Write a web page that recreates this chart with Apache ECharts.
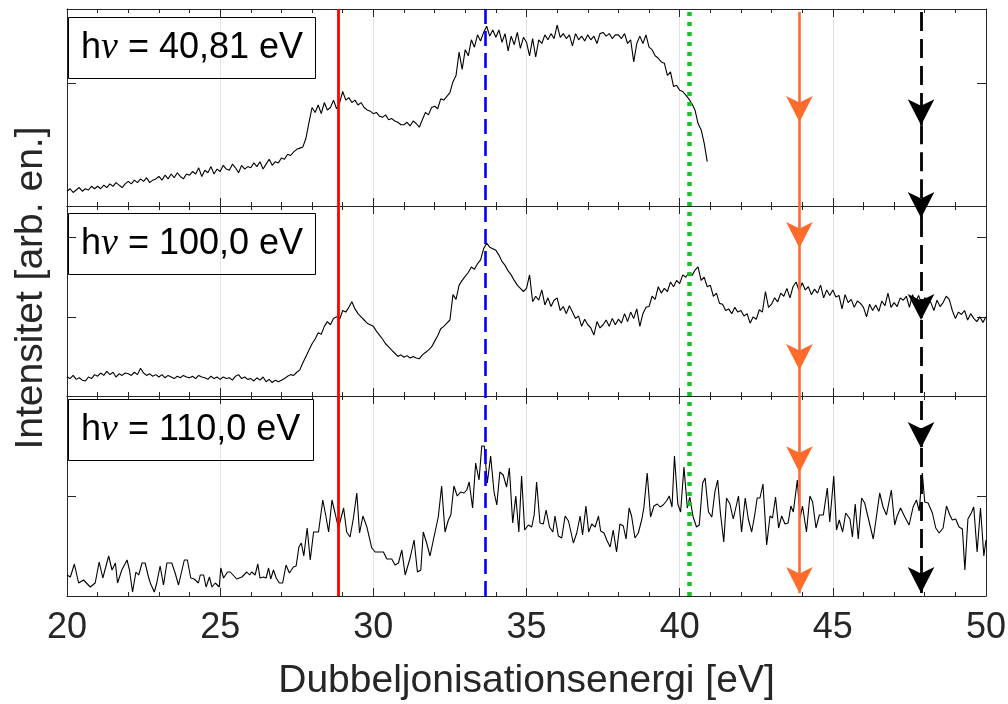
<!DOCTYPE html>
<html><head><meta charset="utf-8">
<script src="https://cdn.jsdelivr.net/npm/echarts@6/dist/echarts.min.js"></script>
<style>html,body{margin:0;padding:0;background:#fff}#c{width:1008px;height:704px}</style>
</head><body><div id="c"></div>
<script>
// ---------- data ----------
const xMin = 20, xMax = 50, xTickStep = 5;
const photonEnergies = ['40,81', '100,0', '110,0'];
const panelYMax = [160, 240, 200];
const yTickStep = 100;

// panel 1 : hv = 40,81 eV (sampled every 0.1 eV from 20.0)
const p1Start = 20, p1Step = 0.1;
const p1 = [
12,14,11,13,15,12,14,13,16,14,
16,14,17,15,18,16,19,17,15,18,
20,18,21,19,22,20,23,19,21,22,
24,21,25,22,26,23,27,24,22,26,
25,28,26,31,24,29,27,32,26,30,
28,33,30,29,34,31,27,33,30,32,
31,35,32,36,30,34,38,33,36,35,
39,38,42,41,44,46,47,48,55,68,
80,76,82,75,84,78,80,86,79,84,
93,86,88,84,86,82,84,80,78,77,
75,76,73,72,74,70,71,69,68,66,
66,68,65,69,67,64,70,76,74,80,
81,79,87,86,89,92,101,106,125,111,
127,122,135,129,139,134,141,146,138,143,
137,143,133,140,126,138,131,141,128,137,
133,122,136,121,135,132,139,135,140,136,
147,137,140,136,139,130,140,135,138,134,
139,135,138,132,140,141,138,140,136,139,
139,136,140,132,135,117,132,138,132,139,
129,127,122,120,117,116,106,109,97,98,
94,93,90,87,83,78,67,62,51,36
];

// panel 2 : hv = 100,0 eV (sampled every 0.1 eV from 20.0)
const p2Start = 20, p2Step = 0.1;
const p2 = [
24,22,26,21,23,20,19,24,22,27,
25,29,26,31,27,30,24,28,26,29,
28,26,30,27,35,29,26,28,25,27,
24,27,23,26,24,22,25,23,26,24,
23,25,22,26,24,23,21,25,22,24,
21,24,22,23,20,25,27,22,24,21,
22,19,23,20,24,18,21,17,20,18,
20,22,25,27,26,30,33,42,50,58,
66,72,80,78,88,94,90,98,100,97,
108,106,112,119,110,104,100,96,92,90,
88,82,77,72,66,62,58,54,50,52,
49,51,48,50,48,47,52,55,58,62,
69,76,85,88,92,96,128,122,140,146,
151,156,163,160,167,172,186,193,188,186,
184,178,170,165,158,153,146,140,136,132,
136,153,119,126,121,134,115,124,113,121,
124,108,113,104,114,106,98,101,88,97,
90,86,77,94,86,90,96,88,98,90,
97,92,104,94,106,98,110,88,104,112,
113,126,122,138,130,136,132,144,138,146,
142,153,150,156,152,159,163,146,150,138,
140,126,130,117,116,108,110,104,112,106,
108,101,104,92,100,97,109,106,132,112,
116,124,119,130,126,136,124,138,144,133,
143,134,138,128,135,130,140,124,134,127,
134,125,127,110,128,118,122,112,120,117,
112,100,116,108,115,107,120,114,130,112,
118,113,124,121,126,112,128,119,127,116,
124,122,118,108,121,113,118,126,122,108,
98,106,103,108,96,104,98,94,100,93,
100
];

// panel 3 : hv = 110,0 eV
const p3x = [
20.00,20.11,20.24,20.38,20.54,20.76,20.92,21.05,21.17,21.36,21.47,21.58,21.65,21.79,21.96,22.04,22.14,22.25,22.34,22.45,
22.55,22.66,22.72,22.85,22.93,23.04,23.15,23.26,23.42,23.53,23.64,23.83,23.93,24.04,24.15,24.29,24.35,24.46,24.54,24.65,
24.73,24.84,24.97,25.02,25.11,25.24,25.33,25.54,25.71,25.87,25.96,26.03,26.14,26.23,26.30,26.41,26.50,26.58,26.65,26.74,
26.83,26.93,27.04,27.15,27.26,27.39,27.48,27.57,27.65,27.73,27.84,27.94,28.05,28.21,28.35,28.45,28.54,28.65,28.75,28.86,
29.03,29.13,29.24,29.35,29.46,29.55,29.66,29.79,29.95,30.06,30.33,30.44,30.60,30.71,30.82,30.93,31.04,31.20,31.33,31.44,
31.55,31.63,31.74,31.85,31.98,32.12,32.23,32.34,32.45,32.53,32.63,32.74,32.85,32.96,33.05,33.13,33.24,33.34,33.45,33.54,
33.62,33.72,33.83,33.94,34.03,34.13,34.24,34.35,34.44,34.55,34.65,34.75,34.84,34.94,35.06,35.17,35.25,35.33,35.44,35.55,
35.64,35.75,35.86,35.93,36.04,36.15,36.26,36.37,36.53,36.64,36.75,36.83,36.94,37.03,37.13,37.24,37.35,37.42,37.53,37.62,
37.73,37.83,37.94,38.05,38.16,38.25,38.35,38.43,38.54,38.65,38.76,38.83,38.94,39.05,39.16,39.27,39.36,39.46,39.57,39.66,
39.75,39.83,39.94,40.03,40.14,40.25,40.33,40.44,40.55,40.64,40.75,40.83,40.94,41.05,41.15,41.24,41.33,41.44,41.53,41.64,
41.75,41.92,42.02,42.14,42.24,42.35,42.45,42.53,42.62,42.72,42.84,42.95,43.03,43.13,43.23,43.33,43.44,43.54,43.63,43.71,
43.84,43.93,44.01,44.14,44.25,44.34,44.45,44.56,44.69,44.82,44.90,45.03,45.12,45.21,45.32,45.42,45.56,45.64,45.73,45.83,
45.94,46.04,46.21,46.32,46.43,46.53,46.64,46.75,46.91,47.02,47.10,47.21,47.35,47.49,47.62,47.73,47.82,47.92,48.00,48.11,
48.25,48.36,48.47,48.60,48.71,48.82,48.90,49.01,49.12,49.23,49.31,49.41,49.52,49.60,49.71,49.82,49.93,50.00
];
const p3y = [
21,19,32,13,16,9,13,34,18,40,26,33,13,26,36,26,4,24,21,33,
33,19,13,4,13,30,11,33,33,23,11,36,36,18,17,13,21,21,9,19,
9,13,9,28,18,24,24,17,19,24,21,24,21,32,18,19,18,28,17,26,
18,13,13,31,23,29,30,49,53,40,68,36,64,64,96,80,64,96,83,68,
88,64,59,78,103,63,80,69,48,44,44,37,37,31,33,46,21,38,56,24,
26,64,53,40,59,79,110,64,76,81,110,100,104,103,106,114,88,133,116,150,
150,113,140,104,91,124,121,109,128,73,100,64,120,66,71,69,81,114,73,72,
86,69,64,80,60,58,80,75,53,63,80,61,90,64,72,69,80,65,63,56,
49,66,44,72,70,57,88,80,58,63,76,88,123,79,90,92,89,91,95,100,
89,140,92,84,129,88,99,79,69,71,113,118,84,79,104,116,83,54,98,92,
77,100,64,98,77,64,81,98,98,112,51,80,78,99,68,80,72,73,90,84,
116,78,90,64,100,94,68,81,81,108,74,120,66,76,64,83,77,59,92,57,
98,93,71,57,81,103,89,81,106,71,80,88,79,71,89,96,85,123,94,93,
83,68,63,68,90,81,76,77,69,67,26,77,83,89,44,88,40,56
];

// reference energies (eV) of the vertical markers
const redLineX = 28.85, blueLineX = 33.65, greenLineX = 40.32, orangeLineX = 43.91, blackLineX = 47.88;
// arrow-tip heights as fraction of total plot height (0 = bottom, 1 = top)
const orangeArrowTips = [0.8075, 0.593, 0.385, 0.211, 0.005];
const blackArrowTips  = [0.802, 0.644, 0.470, 0.252, 0.005];

// ---------- layout ----------
const L = 67, R = 22;
const panelTop = [9, 206, 396];
const panelH = [197, 190, 200];
const plotTop = 9, plotBottom = 596, plotH = plotBottom - plotTop;
const axisColor = '#262626';
const font = 'Liberation Sans';

const grids = panelTop.map((t, i) => ({left: L, right: R, top: t, height: panelH[i], containLabel: false, outerBoundsMode: 'none'}));
grids.push({left: L, right: R, top: plotTop, height: plotH, containLabel: false, outerBoundsMode: 'none'});

const xAxes = [], yAxes = [];
for (let i = 0; i < 3; i++) {
  const last = i === 2;
  ['bottom', 'top'].forEach((pos) => {
    const isBottom = pos === 'bottom';
    xAxes.push({
      type: 'value', gridIndex: i, position: pos, min: xMin, max: xMax, interval: xTickStep,
      axisLine: {show: true, onZero: false, lineStyle: {color: axisColor, width: 1}},
      axisTick: {show: true, inside: true, length: 8, lineStyle: {color: axisColor, width: 1}},
      minorTick: {show: true, splitNumber: 5, length: 4, lineStyle: {color: axisColor, width: 1}},
      axisLabel: {show: last && isBottom, margin: 14, fontSize: 36, color: axisColor, fontFamily: font},
      splitLine: {show: isBottom, lineStyle: {color: '#e2e2e2', width: 1}},
      name: (last && isBottom) ? 'Dubbeljonisationsenergi [eV]' : '',
      nameLocation: 'middle', nameGap: 66,
      nameTextStyle: {fontSize: 39, color: axisColor, fontFamily: font}
    });
  });
  ['left', 'right'].forEach((pos) => {
    yAxes.push({
      type: 'value', gridIndex: i, position: pos, min: 0, max: panelYMax[i], interval: yTickStep,
      axisLine: {show: true, onZero: false, lineStyle: {color: axisColor, width: 1}},
      axisTick: {show: true, inside: true, length: 9, lineStyle: {color: axisColor, width: 1}},
      axisLabel: {show: false},
      splitLine: {show: false}
    });
  });
}
xAxes.push({type: 'value', gridIndex: 3, min: xMin, max: xMax, show: false});
yAxes.push({type: 'value', gridIndex: 3, min: 0, max: 1, show: false});

const p1Data = p1.map((v, i) => [+(p1Start + i * p1Step).toFixed(2), v]);
const p2Data = p2.map((v, i) => [+(p2Start + i * p2Step).toFixed(2), v]);
const p3Data = p3x.map((x, i) => [x, p3y[i]]);
const curves = [p1Data, p2Data, p3Data];

const series = curves.map((d, i) => ({
  type: 'line', xAxisIndex: 2 * i, yAxisIndex: 2 * i, data: d,
  symbol: 'none', showSymbol: false, silent: true, animation: false, z: 2,
  lineStyle: {color: '#000', width: 1.1}
}));

function vline(x, color, width, type, name) {
  return {
    type: 'line', name: name, xAxisIndex: 6, yAxisIndex: 6, data: [], silent: true, animation: false, z: 5,
    markLine: {
      silent: true, animation: false, symbol: ['none', 'none'], label: {show: false},
      lineStyle: {color: color, width: width, type: type, cap: 'butt'},
      emphasis: {disabled: true},
      data: [[{coord: [x, 0]}, {coord: [x, 1]}]]
    }
  };
}
const arrowLen = 26, arrowW = 20;
function arrowLine(x, tips, color, width, type, name) {
  const segs = [];
  let start = 0.995;
  tips.forEach(e => { segs.push([{coord: [x, start]}, {coord: [x, e]}]); start = e; });
  return {
    type: 'line', name: name, xAxisIndex: 6, yAxisIndex: 6, data: [], silent: true, animation: false, z: 6,
    markLine: {
      silent: true, animation: false, symbol: ['none', 'arrow'], symbolSize: [arrowW, arrowLen],
      label: {show: false}, emphasis: {disabled: true},
      lineStyle: {color: color, width: width, type: type, cap: 'butt'},
      itemStyle: {color: color},
      data: segs
    }
  };
}
series.push(vline(redLineX, '#ff0000', 2.8, 'solid', 'red'));
series.push(vline(blueLineX, '#0000ff', 2.6, [15, 7], 'blue'));
series.push(vline(greenLineX, '#19c02b', 4.5, [4, 6], 'green'));
series.push(arrowLine(orangeLineX, orangeArrowTips, '#ff6b2b', 2.6, 'solid', 'orange'));
series.push(arrowLine(blackLineX, blackArrowTips, '#000000', 2.8, [19, 8], 'black'));

const boxTop = [17, 213, 399];
const titles = photonEnergies.map((e, i) => ({
  text: '{t|h}{nu|ν}{t| = ' + e + ' eV}',
  left: 68, top: boxTop[i],
  padding: [10, 13], borderColor: '#000', borderWidth: 1,
  textStyle: {
    fontWeight: 'normal', lineHeight: 42,
    rich: {
      t: {fontFamily: font, fontSize: 36, fontWeight: 'normal', color: '#000', lineHeight: 42},
      nu: {fontFamily: 'Liberation Serif', fontStyle: 'italic', fontWeight: 'normal', fontSize: 38, color: '#000', lineHeight: 42}
    }
  }
}));

const chart = echarts.init(document.getElementById('c'), null, {renderer: 'canvas'});
chart.setOption({
  animation: false,
  backgroundColor: '#fff',
  title: titles,
  grid: grids,
  xAxis: xAxes,
  yAxis: yAxes,
  series: series,
  graphic: [{
    type: 'text', x: 31, y: 288, rotation: Math.PI / 2, silent: true,
    style: {text: 'Intensitet [arb. en.]', font: '39px "Liberation Sans"', fill: axisColor, align: 'center', verticalAlign: 'middle'}
  }]
});
</script></body></html>
